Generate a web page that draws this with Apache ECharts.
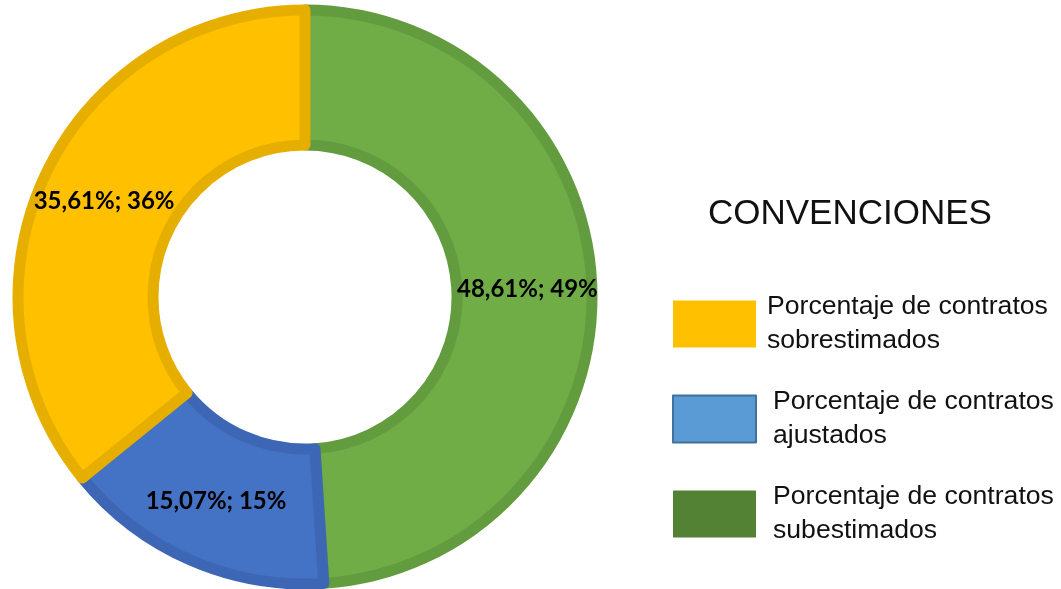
<!DOCTYPE html>
<html>
<head>
<meta charset="utf-8">
<script src="https://cdn.jsdelivr.net/npm/echarts@6/dist/echarts.min.js"></script>
<style>
  html, body { margin: 0; padding: 0; background: #fff; }
  #chart { width: 1061px; height: 589px; }
</style>
</head>
<body>
<div id="chart"></div>
<script>
// datos del gráfico (orden del anillo, sentido horario desde arriba)
const categories = [
  "Porcentaje de contratos subestimados",
  "Porcentaje de contratos ajustados",
  "Porcentaje de contratos sobrestimados",
];
const values = [48.61, 15.07, 35.61];
const sliceColors = ["#70AD47", "#4472C4", "#FFC000"];
const sliceBorders = ["#629C3E", "#3D67B5", "#E6AF00"];

// leyenda (orden del cuadro de convenciones)
const legendOrder = [
  "Porcentaje de contratos sobrestimados",
  "Porcentaje de contratos ajustados",
  "Porcentaje de contratos subestimados",
];
const legendColors = ["#FFC000", "#5B9BD5", "#548235"];
const legendBorders = ["#FFC000", "#41719C", "#548235"];

const chart = echarts.init(document.getElementById("chart"));

const option = {
  backgroundColor: "#ffffff",
  animation: false,
  title: {
    text: "CONVENCIONES",
    left: 703,
    top: 192,
    textStyle: {
      fontFamily: "Liberation Sans",
      fontSize: 35,
      fontWeight: "normal",
      color: "#111",
    },
  },
  legend: {
    orient: "vertical",
    left: 667,
    top: 285,
    itemWidth: 83,
    itemHeight: 47,
    itemGap: 27,
    icon: "rect",
    selectedMode: false,
    formatter: (name) => name.replace(" contratos ", " contratos\n"),
    textStyle: {
      fontFamily: "Liberation Sans",
      fontSize: 26.6,
      lineHeight: 34,
      color: "#111",
    },
    data: legendOrder.map((name, i) => ({
      name: name,
      itemStyle: {
        color: legendColors[i],
        borderColor: legendBorders[i],
        borderWidth: i === 1 ? 2 : 0,
      },
      textStyle: {
        padding: [0, 0, 0, i === 0 ? 6 : 12],
      },
    })),
  },
  series: [
    {
      type: "pie",
      center: [305, 297],
      radius: [152, 287],
      startAngle: 90,
      clockwise: true,
      avoidLabelOverlap: false,
      label: {
        show: true,
        position: "inside",
        fontFamily: "Lato",
        fontWeight: "bold",
        fontSize: 24,
        color: "#000",
        formatter: (p) =>
          p.value.toFixed(2).replace(".", ",") + "%; " + Math.round(p.percent) + "%",
      },
      labelLine: { show: false },
      emphasis: { disabled: true },
      data: categories.map((name, i) => ({
        name: name,
        value: values[i],
        itemStyle: {
          color: sliceColors[i],
          borderColor: sliceBorders[i],
          borderWidth: 11,
        },
      })),
    },
  ],
};

chart.setOption(option);
</script>
</body>
</html>
